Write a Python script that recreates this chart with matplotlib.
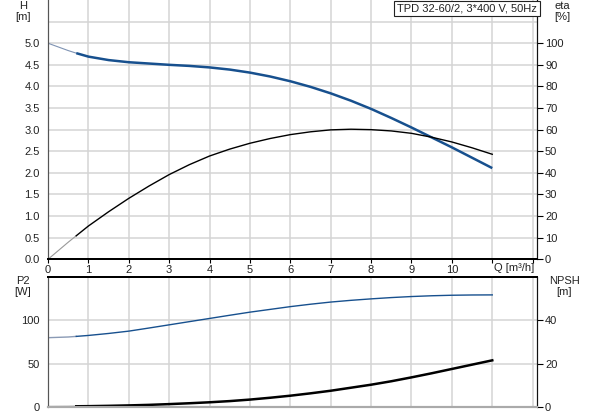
import matplotlib
matplotlib.use("Agg")
import matplotlib.pyplot as plt
import numpy as np

plt.rcParams["font.family"] = ["Liberation Sans", "DejaVu Sans"]
plt.rcParams["font.size"] = 8

# flow rate Q [m3/h], read at half steps (0.7 marks where the thick part starts)
q = [0, 0.5, 0.7, 1, 1.5, 2, 2.5, 3, 3.5, 4, 4.5, 5, 5.5, 6, 6.5, 7, 7.5, 8, 8.5,
     9, 9.5, 10, 10.5, 11]
head = [5.0, 4.83, 4.77, 4.69, 4.61, 4.56, 4.53, 4.50, 4.475, 4.44, 4.39, 4.32,
        4.23, 4.12, 3.99, 3.84, 3.67, 3.48, 3.27, 3.05, 2.82, 2.59, 2.35, 2.11]
eta = [0, 7.9, 10.9, 15.4, 22.0, 28.2, 33.9, 39.2, 43.8, 47.8, 51.0, 53.7, 55.9,
       57.7, 59.0, 59.9, 60.2, 60.0, 59.4, 58.3, 56.5, 54.3, 51.6, 48.6]
p2 = [80.0, 80.8, 81.5, 82.6, 84.9, 87.6, 91.2, 94.9, 98.6, 102.3, 106.0, 109.6,
      112.8, 116.0, 118.8, 121.3, 123.3, 125.0, 126.5, 127.7, 128.6, 129.2,
      129.5, 129.6]
npsh = [0.1, 0.15, 0.2, 0.25, 0.4, 0.6, 0.85, 1.2, 1.6, 2.05, 2.6, 3.3, 4.15,
        5.1, 6.2, 7.4, 8.8, 10.2, 11.8, 13.6, 15.5, 17.5, 19.5, 21.5]

title = "TPD 32-60/2, 3*400 V, 50Hz"
start = 2  # index of Q = 0.7

W, H = 593, 415
BLUE = "#17508e"
GRID = "#d4d4d4"
TXT = "#222222"

fig = plt.figure(figsize=(W / 100, H / 100), dpi=100)
left, right = 48 / W, 536.7 / W
ax1 = fig.add_axes([left, 1 - 259.3 / H, right - left, 259.3 / H])
ax2 = fig.add_axes([left, 1 - 406.7 / H, right - left, (406.7 - 277.3) / H])
ax1r = ax1.twinx()
ax2r = ax2.twinx()

for ax in (ax1, ax2):
    ax.set_xlim(0, 12.1)
    ax.set_xticks(range(13))
    ax.grid(True, color=GRID, lw=1.1)
    ax.set_axisbelow(True)

ax1.set_ylim(0, 6)
ax1.set_yticks(np.arange(0, 5.51, 0.5))
ax1.set_yticklabels([f"{v:.1f}" for v in np.arange(0, 5.01, 0.5)] + [""])
ax1.set_xticklabels([str(i) for i in range(11)] + ["", ""])
ax1r.set_ylim(0, 120)
ax1r.set_yticks(range(0, 101, 10))

ax2.set_ylim(0, 150)
ax2.set_yticks([0, 50, 100, 150])
ax2.set_yticklabels(["0", "50", "100", ""])
ax2.set_xticklabels([])
ax2r.set_ylim(0, 60)
ax2r.set_yticks([0, 20, 40])

for ax in (ax1, ax2):
    ax.tick_params(axis="y", length=0, pad=6, labelcolor=TXT)
for ax in (ax1r, ax2r):
    ax.tick_params(axis="y", length=4, width=0.8, pad=2, labelcolor=TXT)
ax1.tick_params(axis="x", length=3, width=0.8, pad=1, labelcolor=TXT)
ax2.tick_params(axis="x", length=0)

# spines
for ax in (ax1, ax1r):
    ax.spines["top"].set_visible(False)
    ax.spines["bottom"].set_linewidth(1.4)
    ax.spines["left"].set_color("#555555")
    ax.spines["right"].set_color("#111111")
for ax in (ax2, ax2r):
    ax.spines["top"].set_linewidth(1.4)
    ax.spines["bottom"].set_color("#aaaaaa")
    ax.spines["bottom"].set_linewidth(1.5)
    ax.spines["left"].set_color("#555555")
    ax.spines["right"].set_color("#111111")

# top: head and efficiency
ax1.plot(q[:start + 1], head[:start + 1], color="#7f93b3", lw=0.8)
ax1.plot(q[start:], head[start:], color=BLUE, lw=1.8, solid_capstyle="butt")
ax1r.plot(q[:start + 1], eta[:start + 1], color="#999999", lw=0.8)
ax1r.plot(q[start:], eta[start:], color="black", lw=1.0)

# bottom: power and NPSH
ax2.plot(q[:start + 1], p2[:start + 1], color="#8a9ab5", lw=1.0)
ax2.plot(q[start:], p2[start:], color=BLUE, lw=1.0)
ax2r.plot(q[:start + 1], npsh[:start + 1], color="#888888", lw=0.9)
ax2r.plot(q[start:], npsh[start:], color="black", lw=1.8)

# labels
fig.text(23 / W, 1 - 1 / H, "H\n[m]", ha="center", va="top", color=TXT,
         linespacing=1.15)
fig.text(562 / W, 1 - 1 / H, "eta\n[%]", ha="center", va="top", color=TXT,
         linespacing=1.15)
fig.text(23 / W, 1 - 276 / H, "P2\n[W]", ha="center", va="top", color=TXT,
         linespacing=1.15)
fig.text(564 / W, 1 - 276 / H, "NPSH\n[m]", ha="center", va="top", color=TXT,
         linespacing=1.15)
ax1.text(11.55, -0.015, "Q [m\u00b3/h]", transform=ax1.get_xaxis_transform(),
         ha="center", va="top", color=TXT)
fig.text(467 / W, 1 - 8.5 / H, title, ha="center", va="center", color=TXT,
         bbox=dict(boxstyle="square,pad=0.25", fc="white", ec="#222222", lw=0.8))

fig.savefig("out.png", dpi=100)
